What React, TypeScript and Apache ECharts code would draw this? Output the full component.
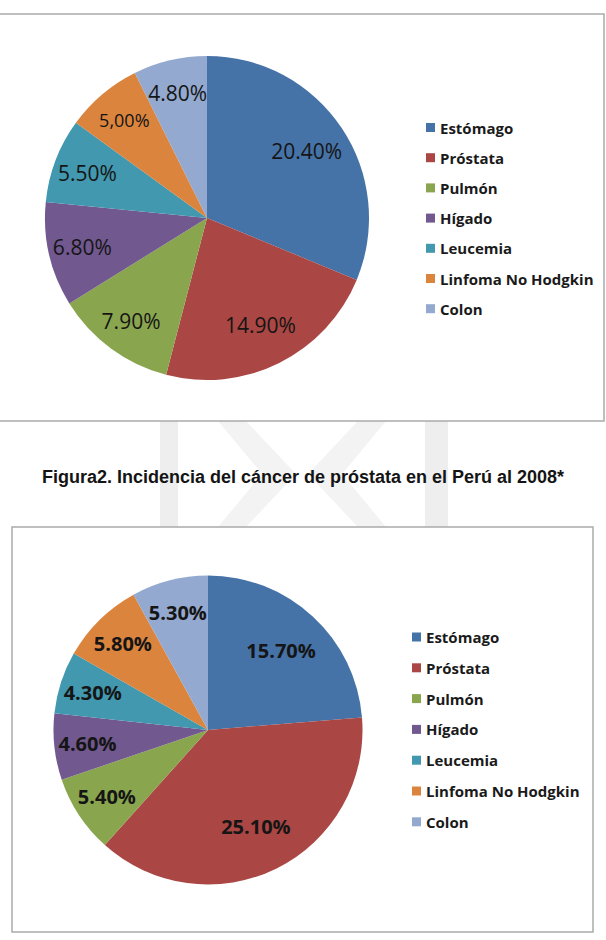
import React, { useEffect, useRef } from "react";
import * as echarts from "echarts";

// Cancer sites shared by both pie charts
const categories = [
  "Estómago",
  "Próstata",
  "Pulmón",
  "Hígado",
  "Leucemia",
  "Linfoma No Hodgkin",
  "Colon",
];

// Upper chart: incidence (%) for all sites
const incidenceAll = [20.4, 14.9, 7.9, 6.8, 5.5, 5.0, 4.8];
// Lower chart (Figura2): incidence (%) in men
const incidenceProstate = [15.7, 25.1, 5.4, 4.6, 4.3, 5.8, 5.3];

const captionText = "Figura2. Incidencia del cáncer de próstata en el Perú al 2008*";

// Slices whose label is written with a decimal comma in the upper chart
const commaLabelSites = ["Linfoma No Hodgkin"];

const palette = ["#4572A7", "#AA4643", "#89A54E", "#71588F", "#4198AF", "#DB843D", "#93A9CF"];

type LabelFont = { fontWeight: string; fontSize: number };

function pieSeries(
  id: string,
  values: number[],
  center: [number, number],
  radius: number,
  ringLarge: number,
  ringSmall: number,
  font: LabelFont,
  commaSites: string[],
  smallFontSites: string[]
) {
  const data = categories.map((name, i) => ({ name, value: values[i] }));
  const fmt = (p: any) => {
    const s = Number(p.value).toFixed(2);
    return (commaSites.includes(p.name) ? s.replace(".", ",") : s) + "%";
  };
  const slices = {
    type: "pie",
    id: id + "-slices",
    center,
    radius,
    startAngle: 90,
    clockwise: true,
    data,
    label: { show: false },
    labelLine: { show: false },
    emphasis: { disabled: true },
    silent: true,
    z: 2,
  };
  // Transparent rings that only carry the value labels; a label sits midway
  // between the ring's inner and outer radius.
  const labelRing = (inner: number, pick: (v: number) => boolean, k: number) => ({
    type: "pie",
    id: `${id}-labels-${k}`,
    center,
    radius: [inner, radius],
    startAngle: 90,
    clockwise: true,
    avoidLabelOverlap: false,
    data: data.map((d) => ({
      ...d,
      label: {
        show: pick(d.value),
        fontSize: smallFontSites.includes(d.name) ? font.fontSize - 3 : font.fontSize,
      },
    })),
    itemStyle: { color: "transparent", borderWidth: 0 },
    label: {
      position: "inside",
      formatter: fmt,
      color: "#151515",
      fontFamily: "Open Sans",
      fontWeight: font.fontWeight,
      fontSize: font.fontSize,
      textBorderWidth: 0,
    },
    labelLine: { show: false },
    emphasis: { disabled: true },
    silent: true,
    z: 3,
  });
  return [
    slices,
    labelRing(ringLarge, (v) => v >= 10, 0),
    labelRing(ringSmall, (v) => v < 10, 1),
  ];
}

function legendAt(left: number, top: number, gap: number) {
  return {
    data: categories,
    orient: "vertical",
    left,
    top,
    padding: 0,
    itemWidth: 9,
    itemHeight: 9,
    itemGap: gap,
    icon: "rect",
    selectedMode: false,
    textStyle: {
      fontFamily: "Open Sans",
      fontWeight: "bold",
      fontSize: 15,
      lineHeight: 16,
      color: "#1a1a1a",
    },
  };
}

const WM = "#eeeeee";
const WM2 = "#f3f3f3";

export default function App() {
  const ref = useRef<HTMLDivElement>(null);

  useEffect(() => {
    if (!ref.current) return;
    const chart = echarts.init(ref.current, undefined, { renderer: "svg" });
    chart.setOption({
      animation: false,
      color: palette,
      backgroundColor: "#ffffff",
      legend: [legendAt(426, 119.5, 14.2), legendAt(412, 629, 14.8)],
      graphic: [
        // faint watermark between the two panels
        { type: "rect", z: 0, shape: { x: 160, y: 421, width: 18, height: 106 }, style: { fill: WM } },
        { type: "rect", z: 0, shape: { x: 425, y: 421, width: 23, height: 106 }, style: { fill: WM } },
        {
          type: "polygon",
          z: 0,
          shape: { points: [[218, 421], [246, 421], [296, 474], [246, 527], [218, 527], [262, 474]] },
          style: { fill: WM2 },
        },
        {
          type: "polygon",
          z: 0,
          shape: { points: [[386, 421], [358, 421], [308, 474], [358, 527], [386, 527], [342, 474]] },
          style: { fill: WM2 },
        },
        // chart panels
        {
          type: "rect",
          z: 1,
          shape: { x: -2, y: 14, width: 606, height: 407 },
          style: { fill: "#ffffff", stroke: "#ababab", lineWidth: 1.5 },
        },
        {
          type: "rect",
          z: 1,
          shape: { x: 12, y: 527, width: 581, height: 405 },
          style: { fill: "#ffffff", stroke: "#ababab", lineWidth: 1.5 },
        },
        {
          type: "text",
          z: 1,
          x: 303,
          y: 477,
          style: {
            text: captionText,
            textAlign: "center",
            textVerticalAlign: "middle",
            fontFamily: "Liberation Sans",
            fontWeight: "bold",
            fontSize: 18,
            fill: "#141414",
          },
        },
      ],
      series: [
        ...pieSeries(
          "todos",
          incidenceAll,
          [207, 218],
          162,
          72,
          88,
          { fontWeight: "normal", fontSize: 21 },
          commaLabelSites,
          commaLabelSites
        ),
        ...pieSeries(
          "prostata",
          incidenceProstate,
          [208, 730],
          154.5,
          55,
          82,
          { fontWeight: "bold", fontSize: 20 },
          [],
          []
        ),
      ],
    });
    return () => chart.dispose();
  }, []);

  return (
    <div
      ref={ref}
      style={{ position: "fixed", left: 0, top: 0, width: 606, height: 940 }}
    />
  );
}
